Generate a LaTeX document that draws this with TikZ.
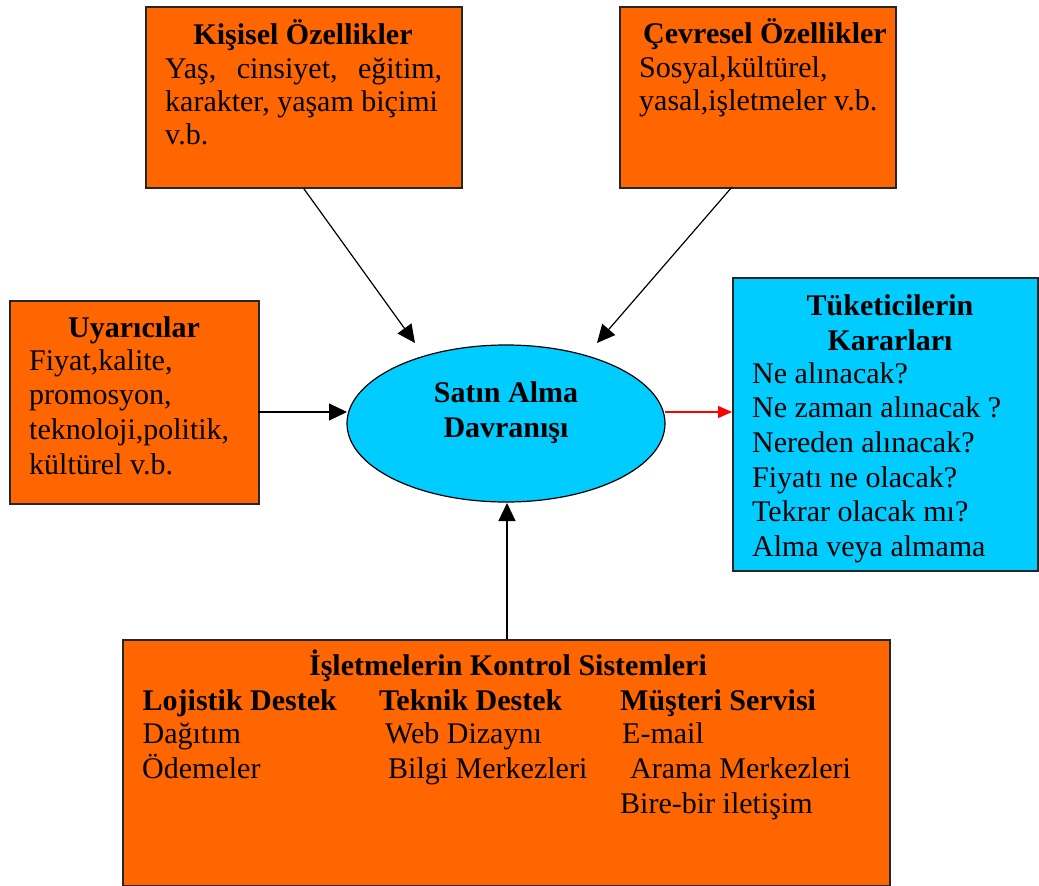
\documentclass[tikz,border=0pt]{standalone}
\usepackage{fontspec}
\setmainfont{Liberation Serif}
\usetikzlibrary{arrows.meta,shapes.geometric}
\definecolor{org}{HTML}{FF6600}
\definecolor{cyn}{HTML}{00CCFF}
\begin{document}
\begin{tikzpicture}[x=1pt,y=-1pt,
  box/.style={draw=black!85, line width=1.8pt, fill=org, inner sep=0pt, anchor=north west},
  txt/.style={anchor=base west, inner sep=0pt, font=\fontsize{30}{33}\selectfont},
  ttl/.style={anchor=base, inner sep=0pt, font=\fontsize{30}{33}\selectfont\bfseries},
  hdr/.style={anchor=base west, inner sep=0pt, font=\fontsize{30}{33}\selectfont\bfseries},
  arr/.style={line width=1.2pt, -{Triangle[length=18pt,width=17pt]}},
  rarr/.style={line width=1.2pt, red, -{Triangle[length=14pt,width=12pt]}}]
\useasboundingbox (0,0) rectangle (1039,886);
% boxes
\node[box, minimum width=316pt, minimum height=181pt] (kis) at (145,6) {};
\node[box, minimum width=276pt, minimum height=181pt] (cev) at (619,6) {};
\node[box, minimum width=249pt, minimum height=203pt] (uya) at (9,300) {};
\node[box, fill=cyn, minimum width=305pt, minimum height=293pt] (tuk) at (732,277) {};
\node[box, minimum width=767pt, minimum height=246pt] (isl) at (122,639) {};
\node[ellipse, draw=black, line width=1.2pt, fill=cyn, minimum width=318pt, minimum height=157pt, inner sep=0pt] (sat) at (506,423.5) {};
% Kisisel
\node[ttl] (kisT) at (303,44) {Kişisel Özellikler};
\node[txt] (kis1) at (165,78) {\makebox[277pt][s]{Yaş, cinsiyet, eğitim,}};
\node[txt] (kis2) at (165,111) {karakter, yaşam biçimi};
\node[txt] (kis3) at (165,144) {v.b.};
% Cevresel
\node[ttl] (cevT) at (765,43) {Çevresel Özellikler};
\node[txt] (cev1) at (639,77) {Sosyal,kültürel,};
\node[txt] (cev2) at (639,110) {yasal,işletmeler v.b.};
% Uyaricilar
\node[ttl] (uyaT) at (134,337) {Uyarıcılar};
\node[txt] (uya1) at (29,370) {Fiyat,kalite,};
\node[txt] (uya2) at (29,404) {promosyon,};
\node[txt] (uya3) at (29,439) {teknoloji,politik,};
\node[txt] (uya4) at (29,474) {kültürel v.b.};
% Tuketicilerin
\node[ttl] (tukT1) at (890,315) {Tüketicilerin};
\node[ttl] (tukT2) at (890,350) {Kararları};
\node[txt] (tuk1) at (752,383) {Ne alınacak?};
\node[txt] (tuk2) at (752,417) {Ne zaman alınacak ?};
\node[txt] (tuk3) at (752,452) {Nereden alınacak?};
\node[txt] (tuk4) at (752,487) {Fiyatı ne olacak?};
\node[txt] (tuk5) at (752,521) {Tekrar olacak mı?};
\node[txt] (tuk6) at (752,556) {Alma veya almama};
% ellipse text
\node[ttl] (satT1) at (506,402) {Satın Alma};
\node[ttl] (satT2) at (506,437) {Davranışı};
% bottom
\node[ttl] (islT) at (508,675) {İşletmelerin Kontrol Sistemleri};
\node[hdr] (h1) at (142.5,710) {Lojistik Destek};
\node[hdr] (h2) at (379,710) {Teknik Destek};
\node[hdr] (h3) at (620,710) {Müşteri Servisi};
\node[txt] (r11) at (142.5,743) {Dağıtım};
\node[txt] (r12) at (385,743) {Web Dizaynı};
\node[txt] (r13) at (622,743) {E-mail};
\node[txt] (r21) at (142,778) {Ödemeler};
\node[txt] (r22) at (388,778) {Bilgi Merkezleri};
\node[txt] (r23) at (630,778) {Arama Merkezleri};
\node[txt] (r33) at (620,813) {Bire-bir iletişim};
% connectors
\coordinate (a1) at (415,343);
\coordinate (s2) at (732,187);
\coordinate (a2) at (597,343);
\coordinate (a3) at (347,412);
\coordinate (s3) at (258,412);
\coordinate (s4) at (665,412);
\coordinate (a4) at (732,412);
\coordinate (s5) at (507,639);
\coordinate (a5) at (507,503);
\draw[arr] (kis.south) -- (a1);
\draw[arr] (s2) -- (a2);
\draw[arr] (s3) -- (a3);
\draw[rarr] (s4) -- (a4);
\draw[arr] (s5) -- (a5);
\end{tikzpicture}
\end{document}
